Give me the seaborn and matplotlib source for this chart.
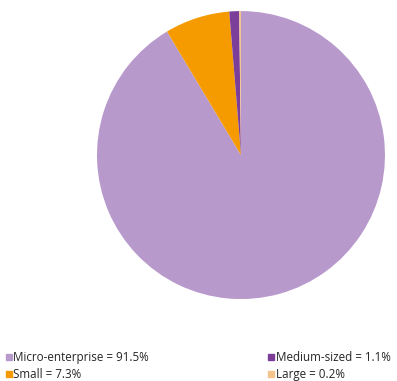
import matplotlib
matplotlib.use("Agg")
import matplotlib.pyplot as plt
from matplotlib.lines import Line2D
import seaborn as sns

sns.set_theme(style="white")
plt.rcParams['font.family'] = ['Open Sans', 'DejaVu Sans']

labels = ["Micro-enterprise", "Small", "Medium-sized", "Large"]
shares = [91.5, 7.3, 1.1, 0.2]
colors = ["#B899CC", "#F59B00", "#7B3F99", "#F5C38C"]

fig = plt.figure(figsize=(3.97, 3.81), dpi=100)
ax = fig.add_axes([0.2443, 0.215, 0.7254, 0.756])
ax.pie(shares, colors=colors, startangle=90, counterclock=False,
       wedgeprops=dict(linewidth=0))
ax.set_xlim(-1, 1)
ax.set_ylim(-1, 1)
ax.set_aspect("equal")
ax.axis("off")

handles = [Line2D([], [], marker="s", linestyle="", color=c, markersize=4)
           for c in colors]
texts = [f"{l} = {v}%" for l, v in zip(labels, shares)]
fig.legend(handles, texts, ncol=2, loc="lower left",
           bbox_to_anchor=(0.0, -0.016), frameon=False, fontsize=8.4,
           handlelength=0.5, handletextpad=0.15, columnspacing=10.2,
           labelspacing=0.35, borderaxespad=0.1)

fig.savefig("out.png", dpi=100)
